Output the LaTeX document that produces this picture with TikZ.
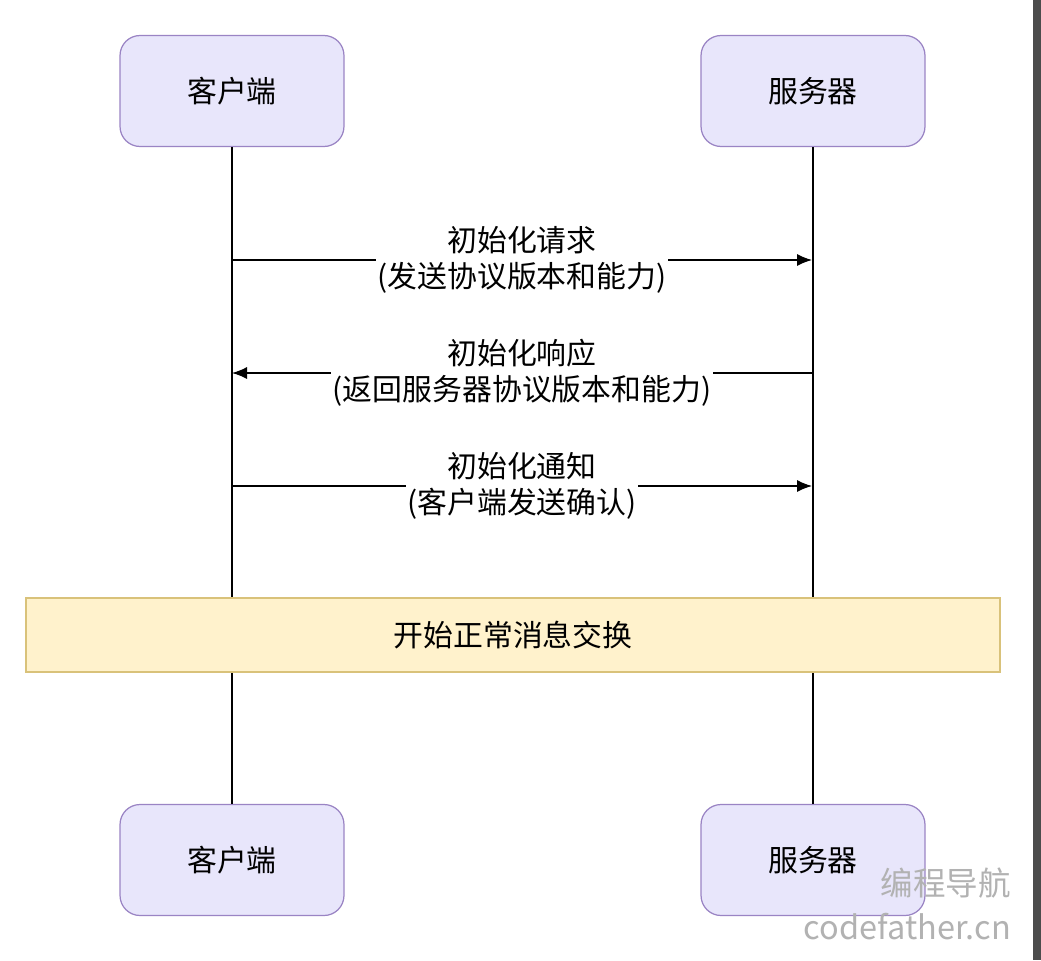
\documentclass[tikz,border=0pt]{standalone}
\usepackage{fontspec}
\setmainfont{Noto Sans CJK SC}
\usetikzlibrary{arrows.meta}
\definecolor{actorfill}{HTML}{E8E6FB}
\definecolor{actorline}{HTML}{9A84C4}
\definecolor{notefill}{HTML}{FFF2CC}
\definecolor{noteline}{HTML}{D9C27A}
\begin{document}
\begin{tikzpicture}[
	x=0.02cm, y=-0.02cm,
	font=\fontsize{17}{20.5}\selectfont,
	actor/.style={draw=actorline, fill=actorfill, rounded corners=0.4cm, line width=0.7pt,
		minimum width=4.48cm, minimum height=2.22cm},
	note/.style={draw=noteline, fill=notefill, line width=0.7pt,
		minimum width=19.48cm, minimum height=1.48cm},
	msg/.style={-{Latex[length=0.3cm,width=0.24cm]}, line width=0.7pt},
	msglabel/.style={fill=white, align=center, inner sep=1pt}]
\useasboundingbox (0,0) rectangle (1041,960);
\fill[white] (0,0) rectangle (1041,960);
\fill[black!70] (1033,0) rectangle (1041,960);
% actors
\node[actor] (clienttop) at (232,91) {客户端};
\node[actor] (servertop) at (813,91) {服务器};
\node[actor] (clientbot) at (232,860) {客户端};
\node[actor] (serverbot) at (813,860) {服务器};
% lifelines
\draw[line width=0.7pt] (clienttop) -- (clientbot);
\draw[line width=0.7pt] (servertop) -- (serverbot);
% points on the lifelines
\coordinate (c1) at (232,260);
\coordinate (s1) at (812,260);
\coordinate (c2) at (232,373);
\coordinate (s2) at (812,373);
\coordinate (c3) at (232,486);
\coordinate (s3) at (812,486);
% messages
\draw[msg] (c1) -- node[msglabel] {初始化请求\\(发送协议版本和能力)} (s1);
\draw[msg] (s2) -- node[msglabel] {初始化响应\\(返回服务器协议版本和能力)} (c2);
\draw[msg] (c3) -- node[msglabel] {初始化通知\\(客户端发送确认)} (s3);
% note over both
\node[note] (exchange) at (513,635) {开始正常消息交换};
% watermark
\node[anchor=east, text=black!30, font=\fontsize{18.5}{20}\selectfont] (wmcn) at (1017,883) {编程导航};
\node[anchor=east, text=black!30, font=\fontsize{18.5}{20}\selectfont] (wmurl) at (1017,927) {codefather.cn};
\end{tikzpicture}
\end{document}
